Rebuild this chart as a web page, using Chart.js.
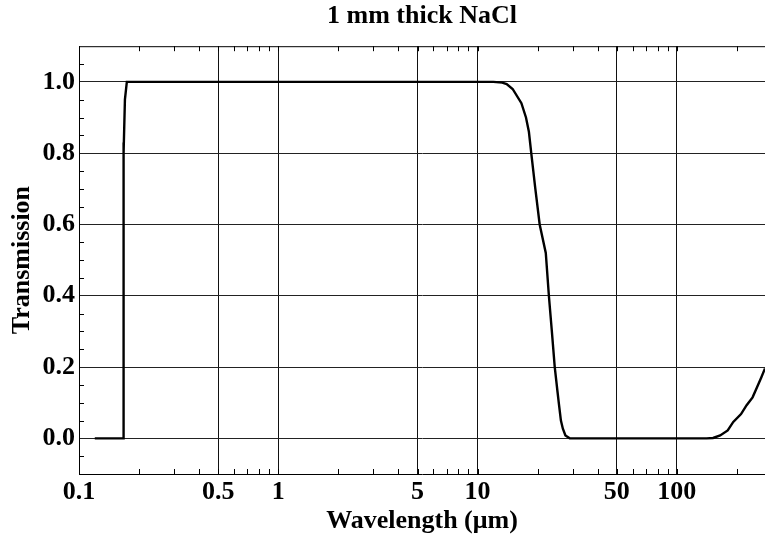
<!DOCTYPE html>
<html lang="en">
<head>
  <meta charset="UTF-8">
  <title>1 mm thick NaCl</title>
  <script src="https://cdn.jsdelivr.net/npm/chart.js"></script>
  <style>
    html, body { margin: 0; padding: 0; background: #fff; }
    #wrap { width: 765px; height: 538px; }
  </style>
</head>
<body>
  <div id="wrap"><canvas id="nacl" width="765" height="538"></canvas></div>
  <script>
    // Transmission curve (wavelength in µm)
    const wavelength = [
      0.12, 0.1665, 0.1668, 0.1672, 0.1676, 0.168, 0.170, 0.1738,
      1, 10, 12, 13.3, 14, 15, 16.6, 17.5, 18.1, 18.6, 19.5, 20.5, 22, 22.8, 23.6, 24.4,
      25.2, 25.6, 26.2, 26.8, 27.6, 29, 50, 100, 141, 152, 165, 180, 192, 210, 224, 240,
      251, 265, 277
    ];
    const transmission = [
      0.0, 0.0, 0.40, 0.83, 0.40, 0.80, 0.95, 1.0,
      1.0, 1.0, 1.0, 0.998, 0.994, 0.98, 0.94, 0.90, 0.86, 0.80, 0.70, 0.60, 0.52, 0.40, 0.30, 0.20,
      0.13, 0.097, 0.05, 0.027, 0.008, 0.0, 0.0, 0.0, 0.0, 0.001, 0.008, 0.022, 0.046, 0.068, 0.093, 0.115,
      0.14, 0.17, 0.196
    ];

    // Axis ticks
    const xTicks = [0.1, 0.5, 1, 5, 10, 50, 100];
    const yTicks = [0.0, 0.2, 0.4, 0.6, 0.8, 1.0];
    const xMinorTicks = [0.2, 0.3, 0.4, 0.6, 0.7, 0.8, 0.9, 2, 3, 4, 6, 7, 8, 9,
                         20, 30, 40, 60, 70, 80, 90, 200];
    const yMinorTicks = [-0.05, 0.05, 0.1, 0.15, 0.25, 0.3, 0.35, 0.45, 0.5, 0.55, 0.65, 0.7, 0.75,
                         0.85, 0.9, 0.95, 1.05];

    const serif = "'Liberation Serif', 'DejaVu Serif', serif";

    // Frame top edge and small inside ticks
    const frameTicks = {
      id: 'frameTicks',
      afterDraw(chart) {
        const { ctx, chartArea: a, scales: { x, y } } = chart;
        ctx.save();
        ctx.strokeStyle = '#000';
        ctx.lineWidth = 1;
        ctx.beginPath();
        ctx.moveTo(a.left, a.top + 0.5);
        ctx.lineTo(a.right, a.top + 0.5);
        xTicks.concat(xMinorTicks).forEach(v => {
          const px = Math.round(x.getPixelForValue(v)) + 0.5;
          ctx.moveTo(px, a.top); ctx.lineTo(px, a.top + 5);
          ctx.moveTo(px, a.bottom); ctx.lineTo(px, a.bottom - 5);
        });
        yMinorTicks.forEach(v => {
          const py = Math.round(y.getPixelForValue(v)) + 0.5;
          ctx.moveTo(a.left, py); ctx.lineTo(a.left + 5, py);
        });
        ctx.stroke();
        ctx.restore();
      }
    };

    new Chart(document.getElementById('nacl'), {
      type: 'line',
      data: {
        datasets: [{
          data: wavelength.map((w, i) => ({ x: w, y: transmission[i] })),
          borderColor: '#000',
          borderWidth: 2.4,
          pointRadius: 0,
          tension: 0,
          fill: false
        }]
      },
      options: {
        responsive: false,
        animation: false,
        layout: { padding: 0 },
        plugins: {
          legend: { display: false },
          tooltip: { enabled: false },
          title: {
            display: true,
            fullSize: false,
            text: '1 mm thick NaCl',
            color: '#000',
            font: { family: serif, size: 26, weight: 'bold', lineHeight: 1.2 },
            padding: { top: 1, bottom: 14 }
          }
        },
        scales: {
          x: {
            type: 'logarithmic',
            min: 0.1,
            max: 277,
            afterBuildTicks: s => { s.ticks = xTicks.map(v => ({ value: v })); },
            afterFit: s => { s.height = 64; },
            ticks: {
              autoSkip: false,
              maxRotation: 0,
              color: '#000',
              padding: 3,
              font: { family: serif, size: 26, weight: 'bold' },
              callback: v => String(v)
            },
            grid: { color: '#111', lineWidth: 1, drawTicks: false },
            border: { display: true, color: '#000', width: 1 },
            title: {
              display: true,
              text: 'Wavelength (\u03bcm)',
              color: '#000',
              font: { family: serif, size: 26, weight: 'bold', lineHeight: 1.2 },
              padding: { top: 0, bottom: 1 }
            }
          },
          y: {
            type: 'linear',
            min: -0.1,
            max: 1.1,
            afterBuildTicks: s => { s.ticks = yTicks.map(v => ({ value: v })); },
            afterFit: s => { s.width = 79; },
            ticks: {
              color: '#000',
              padding: 4,
              font: { family: serif, size: 26, weight: 'bold' },
              callback: v => Number(v).toFixed(1)
            },
            grid: { color: '#222', lineWidth: 1, drawTicks: false },
            border: { display: true, color: '#000', width: 1 },
            title: {
              display: true,
              text: 'Transmission',
              color: '#000',
              font: { family: serif, size: 26, weight: 'bold', lineHeight: 1.2 },
              padding: { top: 7, bottom: 0 }
            }
          }
        }
      },
      plugins: [frameTicks]
    });
  </script>
</body>
</html>
